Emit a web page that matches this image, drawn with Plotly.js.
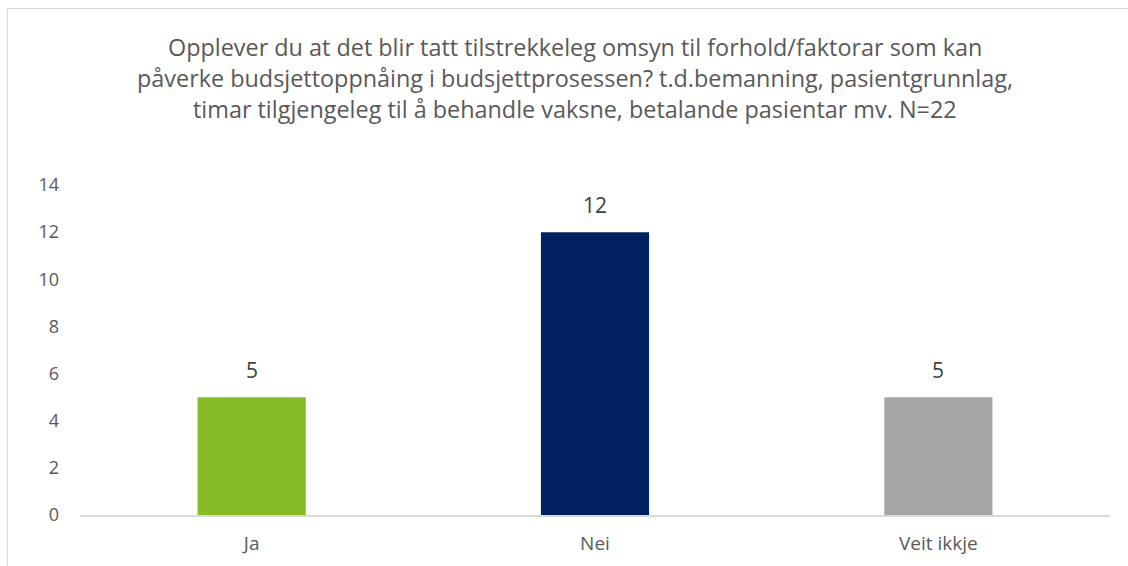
<!DOCTYPE html>
<html><head><meta charset="utf-8">
<script src="https://cdn.plot.ly/plotly-3.0.1.min.js"></script>
<style>
html,body{margin:0;padding:0;background:#fff;}
#wrap{position:relative;width:1128px;height:566px;overflow:hidden;}
#chart{width:1128px;height:566px;}
#frame{position:absolute;left:7px;top:8px;width:1200px;height:700px;border:1px solid #D9D9D9;pointer-events:none;}
</style></head>
<body><div id="wrap"><div id="chart"></div><div id="frame"></div></div>
<script>
const categories = ["Ja", "Nei", "Veit ikkje"];
const values = [5, 12, 5];
const barColors = ["#86BC25", "#002060", "#A5A5A5"];
const titleLines = [
  "Opplever du at det blir tatt tilstrekkeleg omsyn til forhold/faktorar som kan",
  "påverke budsjettoppnåing i budsjettprosessen? t.d.bemanning, pasientgrunnlag,",
  "timar tilgjengeleg til å behandle vaksne, betalande pasientar mv. N=22"
];
const yTicks = [0, 2, 4, 6, 8, 10, 12, 14];

const font = "'Open Sans', sans-serif";
const plotTop = 185, plotBottom = 515, plotH = plotBottom - plotTop;
const titleCenters = [47, 78, 109];

const annotations = [];
titleLines.forEach((t, i) => annotations.push({
  text: t, xref: "paper", yref: "paper", x: 0.4806, xanchor: "center",
  y: (plotBottom - titleCenters[i]) / plotH, yanchor: "middle", showarrow: false,
  font: {family: font, size: 23.4, color: "#595959"}
}));
categories.forEach((c, i) => annotations.push({
  text: String(values[i]), x: c, y: values[i], xref: "x", yref: "y",
  yanchor: "bottom", yshift: 11, showarrow: false,
  font: {family: font, size: 21, color: "#404040"}
}));

Plotly.newPlot("chart", [{
  type: "bar",
  x: categories,
  y: values,
  marker: {color: barColors},
  hoverinfo: "none"
}], {
  width: 1128, height: 566,
  margin: {l: 80, r: 18, t: plotTop, b: 566 - plotBottom},
  paper_bgcolor: "#fff", plot_bgcolor: "#fff",
  font: {family: font, color: "#595959"},
  annotations: annotations,
  bargap: 0.685,
  showlegend: false,
  xaxis: {tickfont: {size: 19, color: "#595959"}, showline: true, linecolor: "#D9D9D9", linewidth: 2,
          ticks: "", showgrid: false, zeroline: false, ticklabelstandoff: 10},
  yaxis: {range: [0, 14], tickvals: yTicks, tickfont: {size: 18, color: "#595959"},
          showgrid: false, zeroline: false, showline: false, ticks: "", ticklabelstandoff: 20}
}, {displayModeBar: false, staticPlot: true});
</script></body></html>
